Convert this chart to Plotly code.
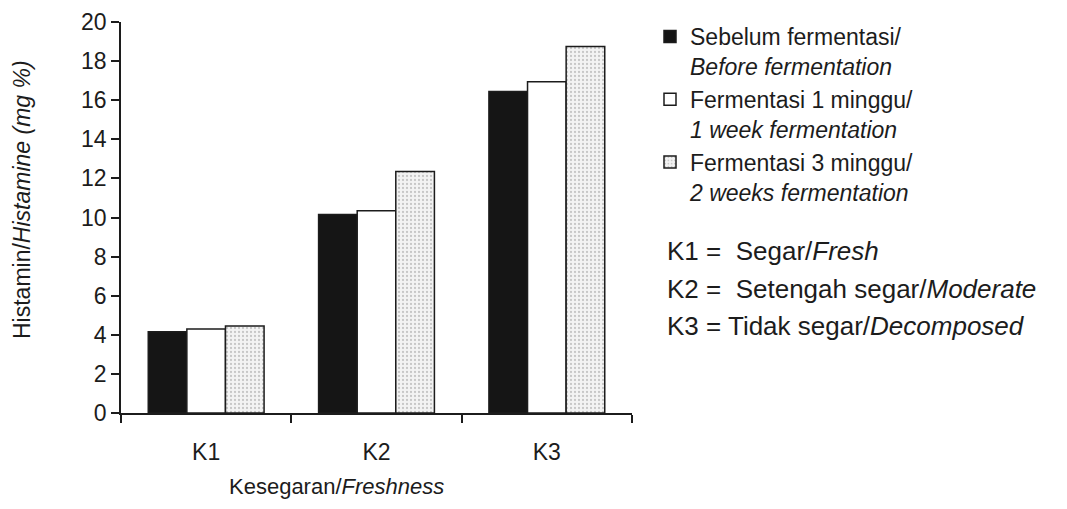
import plotly.graph_objects as go

# Freshness classes and histamine content (mg %)
categories = ['K1', 'K2', 'K3']
before_fermentation = [4.15, 10.15, 16.45]
week1_fermentation = [4.3, 10.35, 16.95]
week3_fermentation = [4.45, 12.35, 18.75]

series_names = [
    'Sebelum fermentasi/<br><i>Before fermentation</i>',
    'Fermentasi 1 minggu/<br><i>1 week fermentation</i>',
    'Fermentasi 3 minggu/<br><i>2 weeks fermentation</i>',
]
key_lines = [
    'K1 =  Segar/<i>Fresh</i>',
    'K2 =  Setengah segar/<i>Moderate</i>',
    'K3 = Tidak segar/<i>Decomposed</i>',
]

INK = '#1c1c1c'
FONT = 'Liberation Sans, Arial, sans-serif'

# the page body adds an 8px margin, so lay out in page pixels minus that
OFF = 8
W, H = 1067 - 2 * OFF, 509 - 2 * OFF
L, R, T, B = 121 - OFF, 632 - OFF, 22 - OFF, 413 - OFF


def px_x(x):
    return (x - OFF - L) / (R - L)


def px_y(y):
    return (B - (y - OFF)) / (B - T)


fig = go.Figure()
fig.add_trace(go.Bar(
    x=categories, y=before_fermentation, name=series_names[0],
    marker=dict(color='#151515', line=dict(color=INK, width=1.5)),
))
fig.add_trace(go.Bar(
    x=categories, y=week1_fermentation, name=series_names[1],
    marker=dict(color='#ffffff', line=dict(color=INK, width=1.5)),
))
fig.add_trace(go.Bar(
    x=categories, y=week3_fermentation, name=series_names[2],
    marker=dict(color='#f3f3f3', line=dict(color=INK, width=1.5),
                pattern=dict(shape='.', fgcolor='#9a9a9a', bgcolor='#f3f3f3',
                             size=4, solidity=0.25)),
))

for i, txt in enumerate(key_lines):
    fig.add_annotation(
        x=px_x(665), y=px_y([251, 289, 326][i]), xref='paper', yref='paper',
        text=txt, showarrow=False, xanchor='left', yanchor='middle',
        font=dict(family=FONT, size=26, color=INK),
    )

# axis titles, placed off-centre as in the original
fig.add_annotation(
    x=px_x(336), y=px_y(487), xref='paper', yref='paper',
    text='Kesegaran/<i>Freshness</i>', showarrow=False,
    xanchor='center', yanchor='middle',
    font=dict(family=FONT, size=22, color=INK),
)
fig.add_annotation(
    x=px_x(22), y=px_y(200), xref='paper', yref='paper',
    text='Histamin/<i>Histamine (mg %)</i>', showarrow=False, textangle=-90,
    xanchor='center', yanchor='middle',
    font=dict(family=FONT, size=23, color=INK),
)

fig.update_layout(
    width=W, height=H,
    margin=dict(l=L, r=W - R, t=T, b=H - B, autoexpand=False),
    paper_bgcolor='white', plot_bgcolor='white',
    barmode='group', bargap=0.32, bargroupgap=0,
    font=dict(family=FONT, size=22, color=INK),
    legend=dict(
        x=px_x(650), y=px_y(15), xanchor='left', yanchor='top',
        font=dict(family=FONT, size=23, color=INK),
        valign='top', bgcolor='rgba(0,0,0,0)',
    ),
    xaxis=dict(
        range=[-0.5, 2.5], showline=True, linecolor=INK, linewidth=1.5,
        ticks='outside', tickson='boundaries', ticklen=8, tickcolor=INK,
        tickwidth=1.5, showgrid=False, zeroline=False, automargin=False,
        tickfont=dict(size=23), ticklabelstandoff=18,
    ),
    yaxis=dict(
        range=[0, 20], dtick=2, showline=True, linecolor=INK, linewidth=1.5,
        ticks='outside', ticklen=8, tickcolor=INK, tickwidth=1.5,
        showgrid=False, zeroline=False, automargin=False, tickfont=dict(size=23),
    ),
)

fig.write_html('out.html')
